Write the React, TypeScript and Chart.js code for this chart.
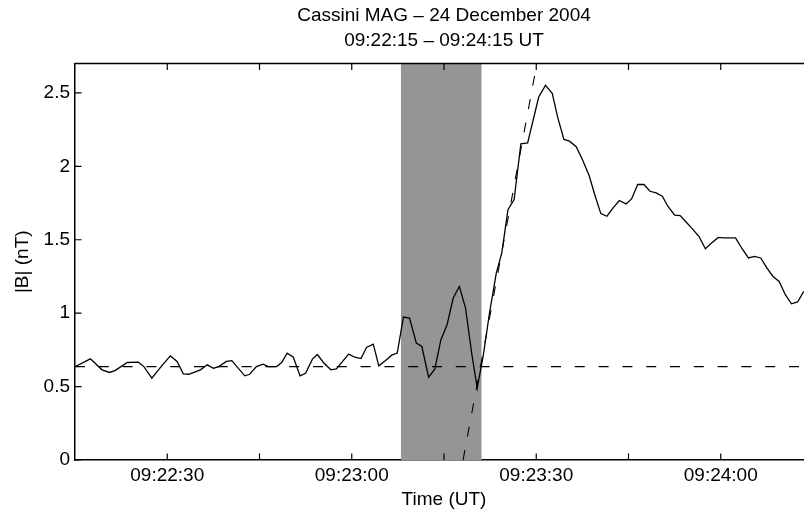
import React, { useEffect, useRef } from 'react';
import { Chart, registerables } from 'chart.js';

Chart.register(...registerables);

const titleLines = ['Cassini MAG – 24 December 2004', '09:22:15 – 09:24:15 UT'];
const xAxisTitle = 'Time (UT)';
const yAxisTitle = '|B| (nT)';

// time in seconds after 09:22:15 UT
const bTimes = [
  0, 2.5, 4.4, 5.6, 6.5, 8.5, 10.3, 11.2, 12.5, 14.1, 15.5, 16.6, 17.6, 18.5, 20.4, 21.5, 22.5, 23.4,
  24.6, 25.5, 27.6, 28.4, 29.5, 30.6, 31.4, 32.8, 33.6, 34.5, 35.5, 36.6, 37.5, 38.6, 39.4, 40.5,
  41.6, 42.5, 44.5, 45.5, 46.5, 47.4, 48.5, 49.4, 50.4, 51.5, 52.4, 53.4, 54.4, 55.5, 56.4, 57.5,
  58.5, 59.5, 60.5, 61.5, 62.5, 63.5, 64.5, 65.4, 66.4, 67.4, 68.5, 69.4, 70.4, 71.4, 72.5, 73.6,
  75.4, 76.5, 77.6, 78.5, 79.5, 80.4, 81.5, 82.5, 83.6, 84.5, 85.5, 86.5, 87.5, 88.5, 89.6, 90.5,
  91.5, 92.5, 93.5, 94.5, 95.5, 96.4, 97.5, 98.4, 99.4, 100.5, 101.5, 102.5, 103.5, 104.6, 105.5,
  106.5, 107.4, 108.5, 109.5, 110.5, 111.5, 112.5, 113.5, 114.5, 115.5, 116.5, 117.5, 118.5,
];
const bValues = [
  0.636, 0.689, 0.614, 0.596, 0.609, 0.664, 0.666, 0.636, 0.557, 0.641, 0.709, 0.671, 0.587, 0.584, 0.614, 0.648, 0.625, 0.636,
  0.671, 0.677, 0.573, 0.584, 0.636, 0.653, 0.636, 0.636, 0.664, 0.728, 0.7, 0.573, 0.591, 0.687, 0.718, 0.659,
  0.614, 0.621, 0.721, 0.7, 0.691, 0.766, 0.789, 0.641, 0.675, 0.714, 0.728, 0.973, 0.966, 0.796, 0.773, 0.564,
  0.619, 0.819, 0.921, 1.103, 1.182, 1.035, 0.728, 0.489, 0.716, 1.001, 1.273, 1.41, 1.705, 1.774, 2.153, 2.16,
  2.472, 2.551, 2.497, 2.331, 2.183, 2.171, 2.133, 2.046, 1.937, 1.808, 1.678, 1.66, 1.717, 1.767, 1.744, 1.778,
  1.876, 1.876, 1.83, 1.819, 1.796, 1.728, 1.667, 1.664, 1.619, 1.569, 1.519, 1.439, 1.478, 1.516, 1.513,
  1.513, 1.512, 1.437, 1.376, 1.387, 1.376, 1.308, 1.25, 1.216, 1.126, 1.064, 1.076, 1.148,
];

const backgroundTimes = [0, 120];
const backgroundValues = [0.636, 0.636];
const rampTimes = [63.1, 75.1];
const rampValues = [0, 2.7];

const shadeStartTime = 53.0;
const shadeEndTime = 66.1;

const xRange = [0, 120];
const yRange = [0, 2.7];
const xMajorTicks = [15, 45, 75, 105];
const xMajorLabels = ['09:22:30', '09:23:00', '09:23:30', '09:24:00'];
const xMinorTicks = [30, 60, 90];
const yTicks = [0, 0.5, 1, 1.5, 2, 2.5];
const yTickLabels = ['0', '0.5', '1', '1.5', '2', '2.5'];

const FONT = '"Liberation Sans", Arial, Helvetica, sans-serif';

const framePlugin = {
  id: 'frame',
  beforeDatasetsDraw(chart: any) {
    const { ctx, chartArea, scales } = chart;
    const x = scales.x;
    const x0 = x.getPixelForValue(shadeStartTime);
    const x1 = x.getPixelForValue(shadeEndTime);
    ctx.save();
    ctx.fillStyle = '#959595';
    ctx.fillRect(x0, chartArea.top, x1 - x0, chartArea.bottom - chartArea.top);
    ctx.restore();
  },
  afterDraw(chart: any) {
    const { ctx, chartArea, scales } = chart;
    const { left, right, top, bottom } = chartArea;
    const x = scales.x;
    const y = scales.y;
    ctx.save();
    ctx.strokeStyle = '#000';
    ctx.lineWidth = 1.5;
    ctx.beginPath();
    ctx.moveTo(left, top);
    ctx.lineTo(right, top);
    ctx.lineTo(right, bottom);
    ctx.stroke();
    const tl = 6.5;
    ctx.lineWidth = 1.2;
    ctx.beginPath();
    for (const v of [...xMajorTicks, ...xMinorTicks]) {
      const px = x.getPixelForValue(v);
      ctx.moveTo(px, bottom);
      ctx.lineTo(px, bottom - tl);
      ctx.moveTo(px, top);
      ctx.lineTo(px, top + tl);
    }
    for (const v of yTicks) {
      const py = y.getPixelForValue(v);
      ctx.moveTo(left, py);
      ctx.lineTo(left + tl, py);
      ctx.moveTo(right, py);
      ctx.lineTo(right - tl, py);
    }
    ctx.stroke();
    ctx.restore();
  },
};

export default function App() {
  const canvasRef = useRef<HTMLCanvasElement | null>(null);

  useEffect(() => {
    const canvas = canvasRef.current;
    if (!canvas) return;
    const toPoints = (xs: number[], ys: number[]) => xs.map((t, i) => ({ x: t, y: ys[i] }));
    const chart = new Chart(canvas, {
      type: 'line',
      data: {
        datasets: [
          {
            label: '|B|',
            data: toPoints(bTimes, bValues),
            borderColor: '#000',
            borderWidth: 1.3,
            pointRadius: 0,
            tension: 0,
          },
          {
            label: 'background',
            data: toPoints(backgroundTimes, backgroundValues),
            borderColor: '#000',
            borderWidth: 1.1,
            borderDash: [10, 13.8],
            pointRadius: 0,
          },
          {
            label: 'ramp',
            data: toPoints(rampTimes, rampValues),
            borderColor: '#000',
            borderWidth: 1.1,
            borderDash: [10, 13.8],
            pointRadius: 0,
          },
        ],
      },
      options: {
        animation: false,
        responsive: false,
        devicePixelRatio: 1,
        layout: { padding: { top: 0, left: 0, right: 1, bottom: 0 } },
        plugins: {
          legend: { display: false },
          tooltip: { enabled: false },
          title: {
            display: true,
            text: titleLines,
            fullSize: false,
            color: '#000',
            font: { family: FONT, size: 19, weight: 'normal', lineHeight: 1.29 },
            padding: { top: 4, bottom: 10.5 },
          },
        },
        scales: {
          x: {
            type: 'linear',
            min: xRange[0],
            max: xRange[1],
            afterBuildTicks: (scale: any) => {
              scale.ticks = [...xMajorTicks, ...xMinorTicks]
                .sort((a, b) => a - b)
                .map((v) => ({ value: v }));
            },
            afterFit: (scale: any) => {
              scale.height = 50;
            },
            ticks: {
              autoSkip: false,
              maxRotation: 0,
              padding: 4,
              color: '#000',
              font: { family: FONT, size: 19 },
              callback: (value: any) => {
                const i = xMajorTicks.indexOf(Number(value));
                return i >= 0 ? xMajorLabels[i] : '';
              },
            },
            grid: { display: true, drawOnChartArea: false, drawTicks: false },
            border: { display: true, color: '#000', width: 1.5 },
            title: {
              display: true,
              text: xAxisTitle,
              color: '#000',
              font: { family: FONT, size: 19, lineHeight: 1 },
              padding: { top: 0, bottom: 0.5 },
            },
          },
          y: {
            type: 'linear',
            min: yRange[0],
            max: yRange[1],
            afterBuildTicks: (scale: any) => {
              scale.ticks = yTicks.map((v) => ({ value: v }));
            },
            afterFit: (scale: any) => {
              scale.width = 75;
            },
            ticks: {
              autoSkip: false,
              padding: 5,
              color: '#000',
              font: { family: FONT, size: 19 },
              callback: (value: any) => {
                const i = yTicks.indexOf(Number(value));
                return i >= 0 ? yTickLabels[i] : '';
              },
            },
            grid: { display: true, drawOnChartArea: false, drawTicks: false },
            border: { display: true, color: '#000', width: 1.5 },
            title: {
              display: true,
              text: yAxisTitle,
              color: '#000',
              font: { family: FONT, size: 19, lineHeight: 1.2 },
              padding: { top: 11.5, bottom: 0 },
            },
          },
        },
      },
      plugins: [framePlugin],
    } as any);
    return () => chart.destroy();
  }, []);

  return (
    <div
      style={{
        position: 'absolute',
        left: 0,
        top: 0,
        width: 804,
        height: 510,
        overflow: 'hidden',
        background: '#fff',
      }}
    >
      <canvas ref={canvasRef} width={814} height={510} style={{ display: 'block' }} />
    </div>
  );
}
